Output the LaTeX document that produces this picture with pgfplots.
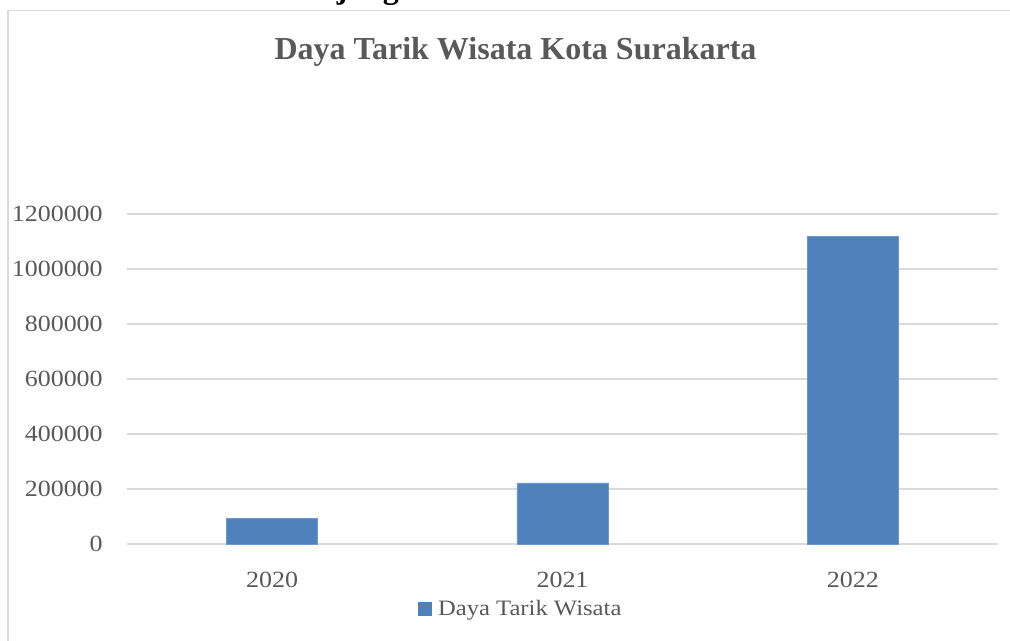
\documentclass[border=0pt]{standalone}
\usepackage{pgfplots}
\pgfplotsset{compat=1.18}
\usepackage{fontspec}
\setmainfont{Liberation Serif}
\newfontfamily\tnr{Liberation Serif}
\newfontfamily\cambria[FakeStretch=1.12]{Liberation Serif}
\definecolor{txtgray}{HTML}{595959}
\definecolor{gridgray}{HTML}{D9D9D9}
\definecolor{barblue}{HTML}{4F81BD}
\definecolor{baredge}{HTML}{6A98CF}
\begin{document}
\begin{tikzpicture}
\useasboundingbox (0,0) rectangle (757.5pt,480pt);
\begin{scope}
\clip (0,0) rectangle (757.5pt,480pt);
\draw[gridgray, line width=1.2pt] (8*0.75pt,-5pt) -- (8*0.75pt,629.5*0.75pt) -- (1020*0.75pt,629.5*0.75pt);
\node[anchor=base west, inner sep=0pt, font=\tnr\bfseries\fontsize{24pt}{28pt}\selectfont] at (276*0.75pt,641.5*0.75pt) {Kunjungan};
\end{scope}
\node[anchor=base, inner sep=0pt, text=txtgray, font=\tnr\bfseries\fontsize{24pt}{28pt}\selectfont] at (515.5*0.75pt,580*0.75pt) {Daya Tarik Wisata Kota Surakarta};
\begin{axis}[
  at={(127*0.75pt,96*0.75pt)}, anchor=south west,
  scale only axis, width=653.25pt, height=247.5pt,
  xmin=-0.5, xmax=2.5, ymin=0, ymax=1200000,
  ybar, bar width=0.3135,
  scaled y ticks=false,
  xtick={0,1,2}, xticklabels={2020,2021,2022},
  ytick={0,200000,400000,600000,800000,1000000,1200000},
  yticklabels={0,200000,400000,600000,800000,1000000,1200000},
  axis line style={draw=none},
  tick style={draw=none},
  ymajorgrids,
  major grid style={gridgray, line width=0.9pt},
  yticklabel style={anchor=east, inner sep=0pt, xshift=-18pt, text=txtgray, font=\cambria\fontsize{17.4pt}{20pt}\selectfont},
  xticklabel style={anchor=base, inner sep=0pt, yshift=-28.5pt, text=txtgray, font=\cambria\fontsize{17.4pt}{20pt}\selectfont},
  legend style={at={(axis description cs:0.451,-0.197)}, anchor=center, draw=none, fill=none,
    inner sep=0pt, nodes={inner sep=0pt}, text=txtgray,
    font=\cambria\fontsize{16.5pt}{19pt}\selectfont,
    /tikz/every odd column/.append style={column sep=4.5pt}},
  legend image code/.code={\fill[barblue] (0pt,-4.875pt) rectangle (9.75pt,4.875pt);},
]
\addplot[fill=barblue, draw=baredge, line width=0.6pt] coordinates {(0,93500) (1,222000) (2,1117500)};
\addlegendentry{Daya Tarik Wisata}
\end{axis}
\end{tikzpicture}
\end{document}
